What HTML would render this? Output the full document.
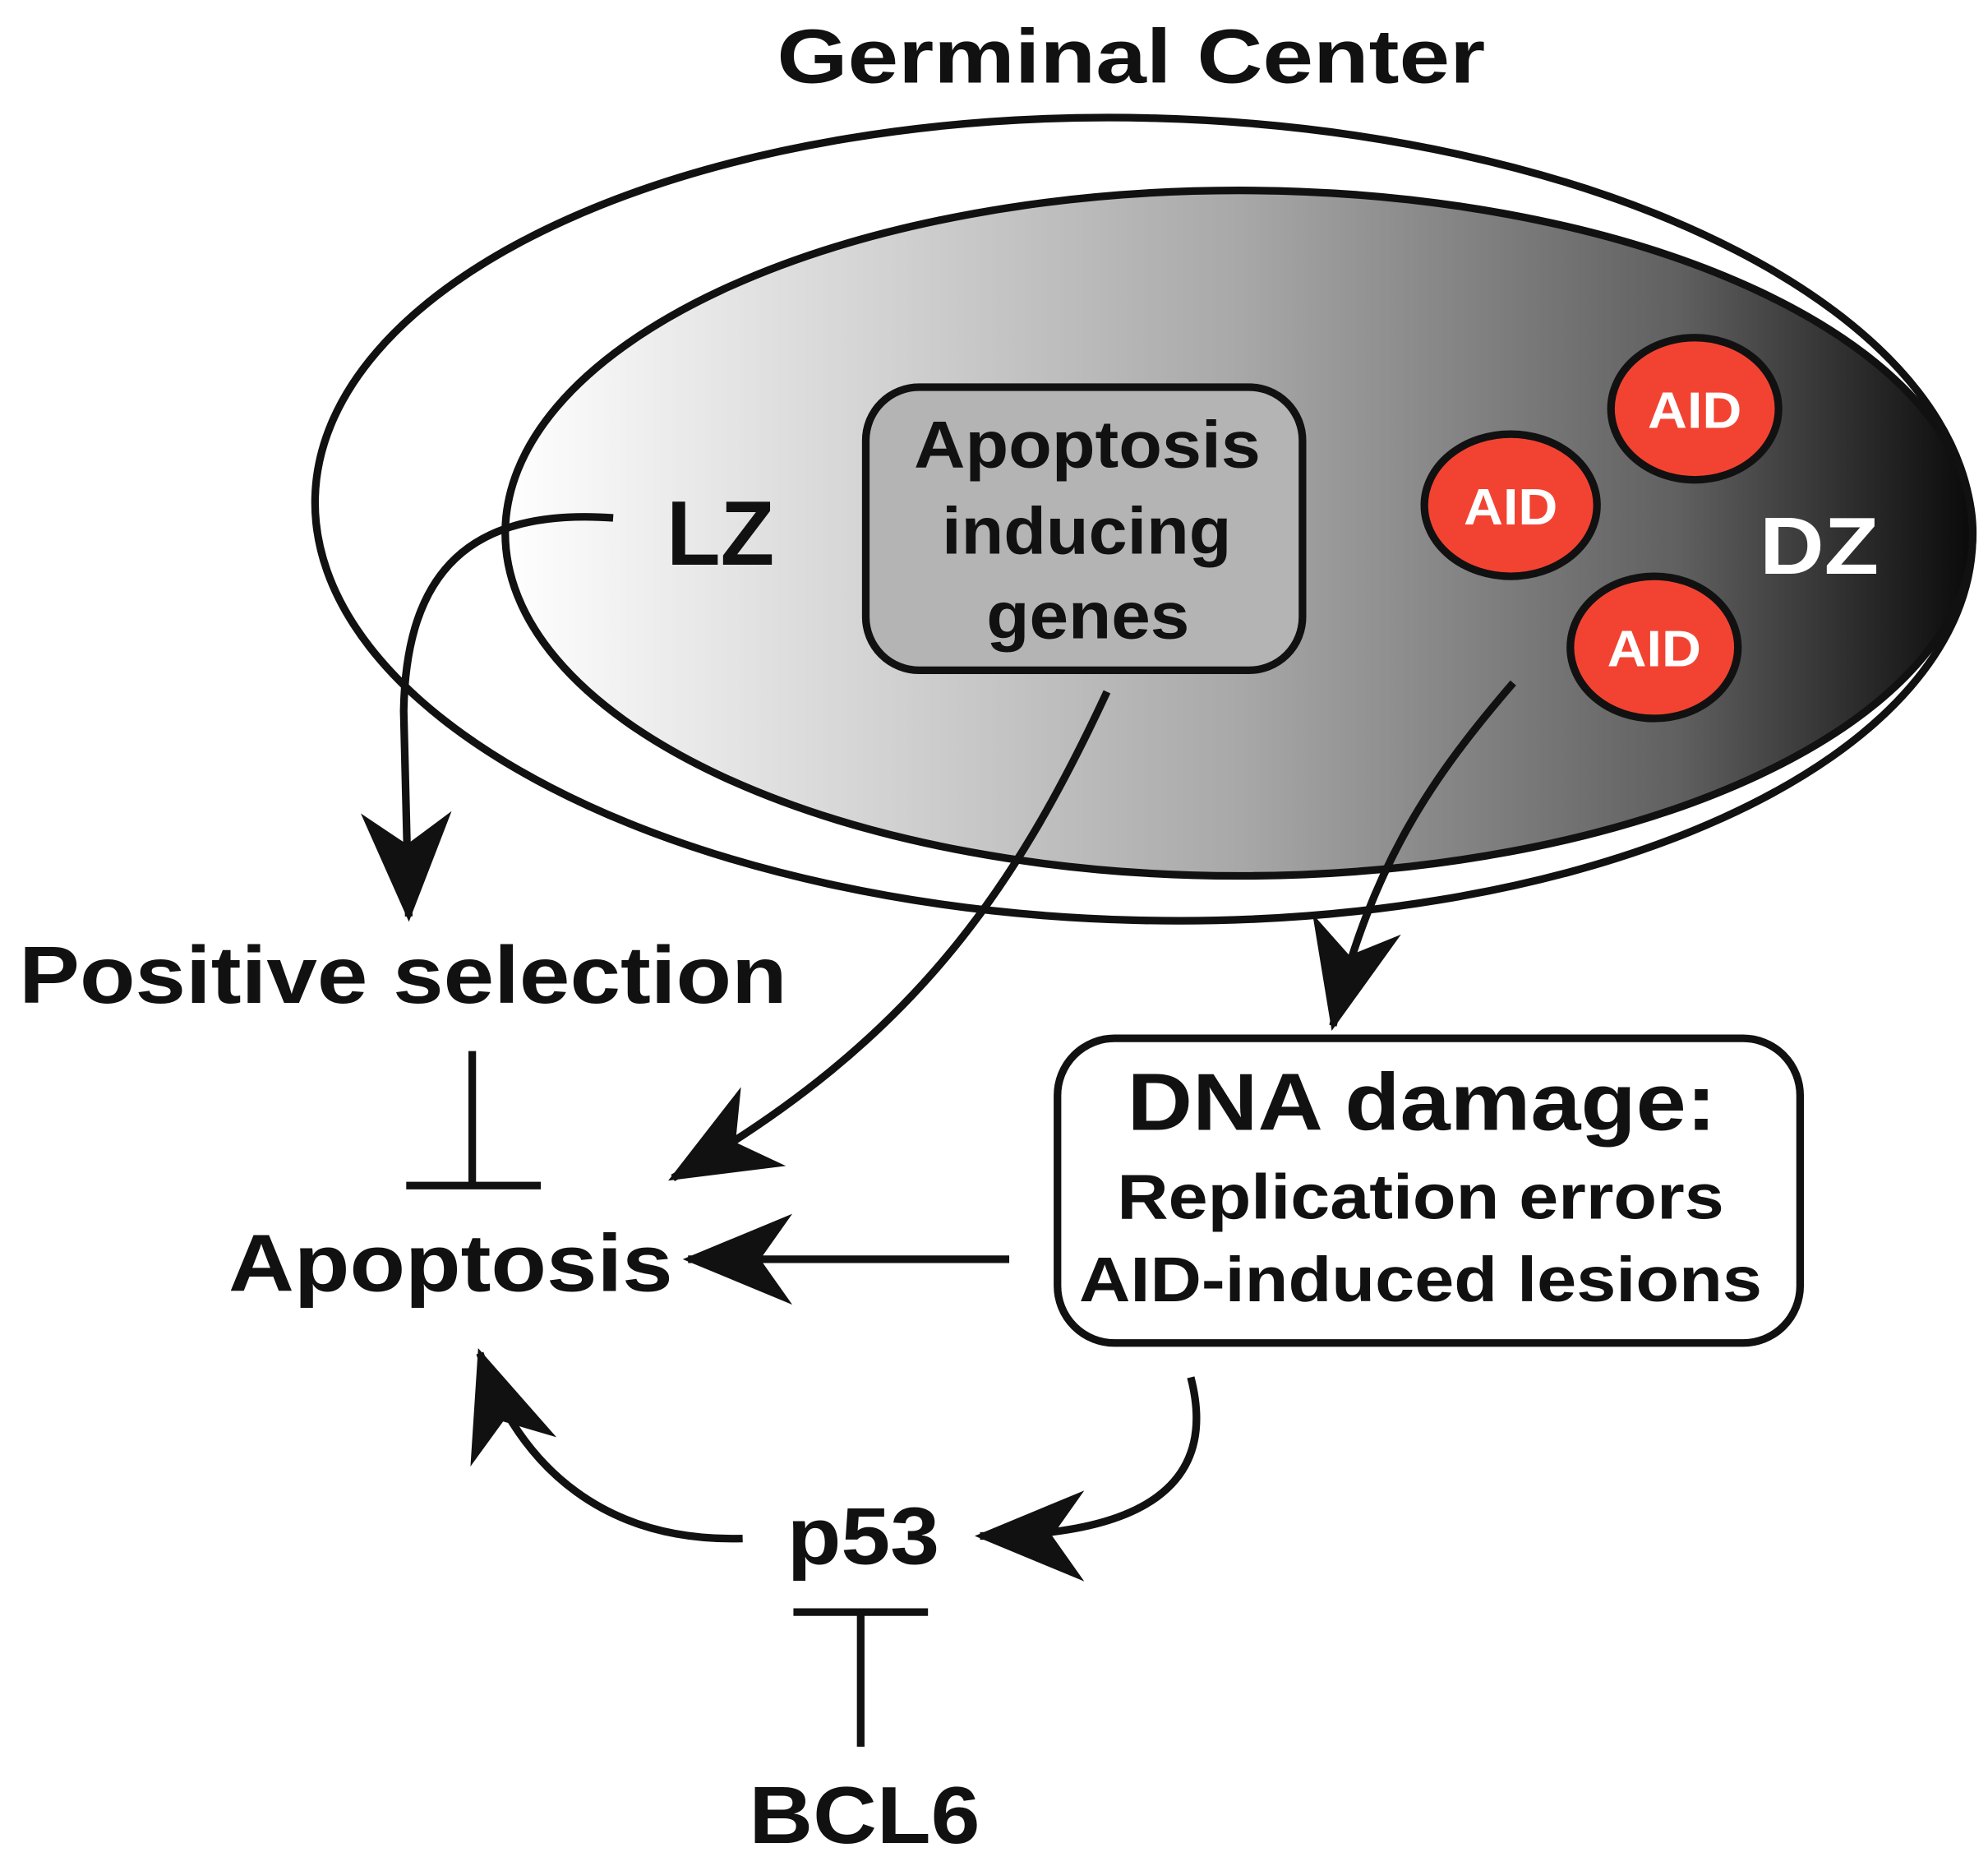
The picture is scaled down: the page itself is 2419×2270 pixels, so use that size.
<!DOCTYPE html>
<html><head><style>html,body{margin:0;padding:0;background:#fff}svg{display:block}text{font-family:"Liberation Sans",Arial,sans-serif;font-weight:bold}</style></head>
<body>
<svg width="2419" height="2270" viewBox="0 0 1566 1470" preserveAspectRatio="none" xmlns="http://www.w3.org/2000/svg">
<defs>
<linearGradient id="g" x1="0" x2="1" y1="0" y2="0">
<stop offset="0" stop-color="#ffffff"/><stop offset="0.5" stop-color="#a8a8a8"/><stop offset="0.8" stop-color="#606060"/><stop offset="1" stop-color="#0a0a0a"/>
</linearGradient>
<marker id="a" markerUnits="userSpaceOnUse" markerWidth="100" markerHeight="100" refX="0" refY="0" viewBox="-85 -45 95 90" orient="auto">
<path d="M4,0 L-78,-34 L-54,0 L-78,34 Z" fill="#111"/>
</marker>
</defs>
<text x="612" y="65" font-size="60" textLength="558" lengthAdjust="spacingAndGlyphs" fill="#111">Germinal Center</text>
<ellipse cx="976" cy="420" rx="578" ry="270" fill="url(#g)" stroke="#111" stroke-width="6"/>
<ellipse cx="901" cy="409" rx="653" ry="316" fill="none" stroke="#111" stroke-width="6" transform="rotate(1.5 901 409)"/>
<rect x="682" y="305" width="344" height="223" rx="42" fill="#b4b4b4" stroke="#111" stroke-width="6"/>
<g font-size="52" fill="#111">
<text x="720" y="368" textLength="273" lengthAdjust="spacingAndGlyphs">Apoptosis</text>
<text x="742" y="436" textLength="228" lengthAdjust="spacingAndGlyphs">inducing</text>
<text x="777" y="503" textLength="160" lengthAdjust="spacingAndGlyphs">genes</text>
</g>
<text x="525" y="445" font-size="72" textLength="85" lengthAdjust="spacingAndGlyphs" fill="#111">LZ</text>
<text x="1386" y="452" font-size="64" textLength="94" lengthAdjust="spacingAndGlyphs" fill="#fff">DZ</text>
<g fill="#f24332" stroke="#111" stroke-width="6">
<ellipse cx="1335" cy="322" rx="66" ry="56"/><ellipse cx="1190" cy="398" rx="68" ry="56"/><ellipse cx="1303" cy="510" rx="66" ry="56"/>
</g>
<g font-size="40" fill="#fff">
<text x="1298" y="337" textLength="74" lengthAdjust="spacingAndGlyphs">AID</text>
<text x="1153" y="413" textLength="74" lengthAdjust="spacingAndGlyphs">AID</text>
<text x="1266" y="525" textLength="74" lengthAdjust="spacingAndGlyphs">AID</text>
</g>
<g fill="none" stroke="#111" stroke-width="6">
<path d="M483,408 C370,400 320,450 318,560 L322,722" marker-end="url(#a)"/>
<path d="M872,545 C800,700 720,820 530,928" marker-end="url(#a)"/>
<path d="M1192,538 C1130,610 1080,680 1050,808" marker-end="url(#a)"/>
<path d="M795,992 L542,992" marker-end="url(#a)"/>
<path d="M938,1085 C960,1170 900,1210 772,1210" marker-end="url(#a)"/>
<path d="M585,1212 C480,1215 410,1160 378,1066" marker-end="url(#a)"/>
<path d="M372,828 L372,934 M320,934 L426,934"/>
<path d="M625,1270 L731,1270 M678,1270 L678,1376"/>
</g>
<rect x="833" y="818" width="585" height="240" rx="45" fill="#fff" stroke="#111" stroke-width="6"/>
<g fill="#111">
<text x="888" y="890" font-size="64" textLength="464" lengthAdjust="spacingAndGlyphs">DNA damage:</text>
<text x="880" y="960" font-size="50" textLength="478" lengthAdjust="spacingAndGlyphs">Replication errors</text>
<text x="850" y="1025" font-size="50" textLength="538" lengthAdjust="spacingAndGlyphs">AID-induced lesions</text>
</g>
<g font-size="64" fill="#111">
<text x="15" y="790" textLength="605" lengthAdjust="spacingAndGlyphs">Positive selection</text>
<text x="180" y="1017" textLength="350" lengthAdjust="spacingAndGlyphs">Apoptosis</text>
<text x="620" y="1232" textLength="120" lengthAdjust="spacingAndGlyphs">p53</text>
<text x="590" y="1452" textLength="182" lengthAdjust="spacingAndGlyphs">BCL6</text>
</g>
</svg>
</body></html>
